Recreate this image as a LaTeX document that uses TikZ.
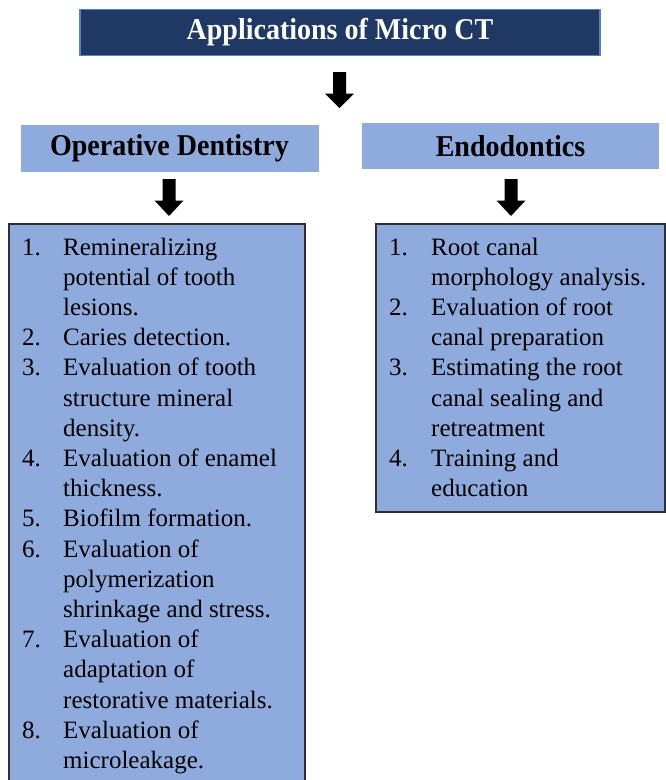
\documentclass[tikz,border=0pt]{standalone}
\usepackage{fontspec}
\setmainfont{Liberation Serif}
\definecolor{navy}{HTML}{203864}
\definecolor{navyborder}{HTML}{4F81D0}
\definecolor{lightblue}{HTML}{8FAADC}
\definecolor{boxborder}{HTML}{303030}
\begin{document}
\begin{tikzpicture}[x=1pt,y=-1pt,
  headbox/.style={fill=lightblue,draw=none},
  listbox/.style={fill=lightblue,draw=boxborder,line width=1.3pt},
  headtext/.style={inner sep=0pt,font=\fontsize{28}{32}\selectfont\bfseries},
  itemtext/.style={inner sep=0pt,anchor=base west,font=\fontsize{25}{30}\selectfont},
  blockarrow/.style={fill=black,draw=none}]
\useasboundingbox (0,0) rectangle (665,780);
% title
\node[fill=navy,draw=navyborder,line width=1.2pt,minimum width=520pt,minimum height=46pt,inner sep=0pt] (title) at (340,32.5) {};
\node[headtext,text=white] (titletext) at (title.center) {\scalebox{1}[1.08]{Applications of Micro CT}};
% section heads
\node[headbox,minimum width=298pt,minimum height=47pt,inner sep=0pt] (op) at (169.5,148.5) {};
\node[headtext] (optext) at (op.center) {\scalebox{1}[1.08]{Operative Dentistry}};
\node[headbox,minimum width=297pt,minimum height=46pt,inner sep=0pt] (en) at (510.5,146) {};
\node[headtext] (entext) at (en.center) {\scalebox{1}[1.08]{Endodontics}};
% list boxes
\draw[listbox] (9,224) rectangle (305,792);
\coordinate (lbox) at (157,224);
\draw[listbox] (376,224) rectangle (665,512);
\coordinate (rbox) at (520.5,224);
% block arrows
\newcommand{\blockarrowat}[3]{%
  \fill[blockarrow] (#1-6.5,#2) -- (#1+6.5,#2) -- (#1+6.5,#2+21.5) -- (#1+14.5,#2+21.5)
    -- (#1,#3) -- (#1-14.5,#2+21.5) -- (#1-6.5,#2+21.5) -- cycle;}
\blockarrowat{339.5}{72}{108}
\blockarrowat{169}{179}{216}
\blockarrowat{511}{179}{216}
% left list
\foreach \t [count=\i from 0] in {Remineralizing,potential of tooth,lesions.,Caries detection.,
  Evaluation of tooth,structure mineral,density.,Evaluation of enamel,thickness.,
  Biofilm formation.,Evaluation of,polymerization,shrinkage and stress.,
  Evaluation of,adaptation of,restorative materials.,Evaluation of,microleakage.}
  \node[itemtext] (L\i) at (63,{255+30.2*\i}) {\t};
\foreach \n/\i in {1/0,2/3,3/4,4/7,5/9,6/10,7/13,8/16}
  \node[itemtext] (LN\n) at (22,{255+30.2*\i}) {\n.};
% right list
\foreach \t [count=\i from 0] in {Root canal,morphology analysis.,Evaluation of root,
  canal preparation,Estimating the root,canal sealing and,retreatment,Training and,education}
  \node[itemtext] (R\i) at (431,{255+30.2*\i}) {\t};
\foreach \n/\i in {1/0,2/2,3/4,4/7}
  \node[itemtext] (RN\n) at (389,{255+30.2*\i}) {\n.};
\end{tikzpicture}
\end{document}
